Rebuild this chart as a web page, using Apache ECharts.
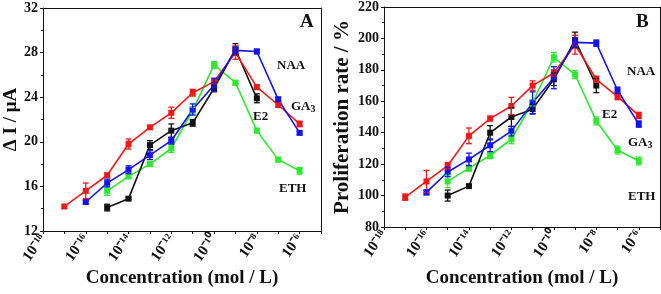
<!DOCTYPE html>
<html><head><meta charset="utf-8">
<script src="https://cdn.jsdelivr.net/npm/echarts@6/dist/echarts.min.js"></script>
<style>html,body{margin:0;padding:0;background:#fff}#c{width:661px;height:294px}</style>
</head><body><div id="c"></div>
<script>
const concExp = [-17,-16,-15,-14,-13,-12,-11,-10,-9,-8,-7,-6];
const xTickExp = [-18,-16,-14,-12,-10,-8,-6];
// Panel A: ΔI / μA
const gaA    = [14.2,15.6,17.0,19.8,21.3,22.6,24.4,25.4,28.0,24.9,23.3,21.6];
const gaAerr = [0.15,0.7,0.2,0.45,0.15,0.5,0.3,0.2,0.6,0.2,0.2,0.25];
const naaA    = [null,14.6,16.3,17.5,18.8,20.1,22.9,25.1,28.2,28.1,23.8,20.8];
const naaAerr = [null,0.15,0.35,0.35,0.4,0.3,0.5,0.6,0.3,0.2,0.2,0.15];
const e2A    = [null,null,14.1,14.9,19.7,21.0,21.7,24.8,28.3,23.9,null,null];
const e2Aerr = [null,null,0.3,0.1,0.4,0.6,0.3,0.3,0.5,0.4,null,null];
const ethA    = [null,null,15.6,16.9,18.0,19.4,22.8,26.9,25.3,21.0,18.4,17.4];
const ethAerr = [null,null,0.4,0.2,0.2,0.35,0.3,0.3,0.2,0.2,0.2,0.3];
// Panel B: Proliferation rate / %
const gaB    = [99,109,119,138,149,157,170,178,196,174,163,151];
const gaBerr = [2,7,2,5,1.5,5.5,3,2,6,2,2,2];
const naaB    = [null,102,115,123,132,141,159,175,197.5,197,167,145.5];
const naaBerr = [null,1.5,3,4,4,3,7,7,3,2,2,2];
const e2B    = [null,null,100,106,140,150,155,174,199,170,null,null];
const e2Berr = [null,null,3.5,1,4.5,6,3,4,5,4.5,null,null];
const ethB    = [null,null,109,117.5,125.5,136,159,188,177,147.5,129,122];
const ethBerr = [null,null,4,2,2,3,2,3,2.5,2.5,2.5,2.5];

const colors = {GA3:'#f01818', NAA:'#1414f0', E2:'#111111', ETH:'#2ee82e'};
const FONT = 'Liberation Serif';
const SUP = {'-':'\u207B','0':'\u2070','1':'\u00B9','2':'\u00B2','3':'\u00B3','4':'\u2074','5':'\u2075','6':'\u2076','7':'\u2077','8':'\u2078','9':'\u2079'};
function sup(n){ return String(n).split('').map(c=>SUP[c]).join(''); }

function pts(vals){ const out=[]; vals.forEach((v,i)=>{ if(v!=null) out.push([concExp[i], v]); }); return out; }
function errPts(vals, errs){ const out=[]; vals.forEach((v,i)=>{ if(v!=null) out.push([concExp[i], v, errs[i]]); }); return out; }

function lineSeries(name, vals, idx){
  return {type:'line', name, xAxisIndex:idx, yAxisIndex:idx, data:pts(vals),
    symbol:'rect', symbolSize:6, color:colors[name],
    lineStyle:{width:1.6, color:colors[name]}, itemStyle:{color:colors[name]}, z:3};
}
function errSeries(name, vals, errs, idx){
  return {type:'custom', name:name+'err', xAxisIndex:idx, yAxisIndex:idx, data:errPts(vals, errs), z:4,
    renderItem(params, api){
      const x=api.value(0), y=api.value(1), e=api.value(2);
      const t=api.coord([x,y+e]), b=api.coord([x,y-e]);
      const w=3, st={stroke:colors[name], lineWidth:1.3};
      return {type:'group', children:[
        {type:'line', shape:{x1:t[0],y1:t[1],x2:b[0],y2:b[1]}, style:st},
        {type:'line', shape:{x1:t[0]-w,y1:t[1],x2:t[0]+w,y2:t[1]}, style:st},
        {type:'line', shape:{x1:b[0]-w,y1:b[1],x2:b[0]+w,y2:b[1]}, style:st}
      ]};
    }};
}

function xAxis(idx, gap, rot){
  return {type:'value', gridIndex:idx, min:-18, max:-5, interval:1,
    name:'Concentration (mol / L)', nameLocation:'middle', nameGap:gap, nameMoveOverlap:false,
    nameTextStyle:{fontFamily:FONT, fontWeight:'bold', fontSize:19, color:'#111'},
    axisLine:{onZero:false, lineStyle:{color:'#111', width:1}},
    axisTick:{inside:false, length:3, lineStyle:{color:'#111'}},
    splitLine:{show:false},
    axisLabel:{rotate:rot, margin:5, fontFamily:FONT, fontWeight:'bold', fontSize:15, color:'#111', hideOverlap:false,
      formatter:v=> xTickExp.indexOf(v)>=0 ? '10'+sup(v) : ''}
  };
}
function xTop(idx){
  return {type:'value', gridIndex:idx, min:-18, max:-5, position:'top',
    axisLine:{onZero:false, lineStyle:{color:'#111'}}, axisTick:{show:false}, axisLabel:{show:false}, splitLine:{show:false}};
}
function yAxis(idx, min, max, interval, name, gap, fs){
  return {type:'value', gridIndex:idx, min, max, interval,
    name, nameLocation:'middle', nameGap:gap,
    nameTextStyle:{fontFamily:FONT, fontWeight:'bold', fontSize:fs, color:'#111'},
    axisLine:{show:true, lineStyle:{color:'#111'}},
    axisTick:{show:true, length:3, lineStyle:{color:'#111'}},
    minorTick:{show:true, splitNumber:2, length:2, lineStyle:{color:'#111'}},
    splitLine:{show:false},
    axisLabel:{margin:5, fontFamily:FONT, fontWeight:'bold', fontSize:14, color:'#111'}
  };
}
function yRight(idx, min, max){
  return {type:'value', gridIndex:idx, min, max, position:'right',
    axisLine:{show:true, lineStyle:{color:'#111'}}, axisTick:{show:false}, axisLabel:{show:false}, splitLine:{show:false}};
}

const series = [];
[['ETH',ethA,ethAerr],['E2',e2A,e2Aerr],['GA3',gaA,gaAerr],['NAA',naaA,naaAerr]].forEach(([n,v,e])=>{
  series.push(lineSeries(n,v,0)); series.push(errSeries(n,v,e,0));
});
[['ETH',ethB,ethBerr],['E2',e2B,e2Berr],['GA3',gaB,gaBerr],['NAA',naaB,naaBerr]].forEach(([n,v,e])=>{
  series.push(lineSeries(n,v,1)); series.push(errSeries(n,v,e,1));
});
series.push({type:'line', xAxisIndex:2, yAxisIndex:2, data:[], silent:true});
series.push({type:'line', xAxisIndex:3, yAxisIndex:3, data:[], silent:true});

function txt(x,y,t,fs){
  return {type:'text', left:x, top:y, style:{text:t, fontFamily:FONT, fontWeight:'bold', fontSize:fs||13, fill:'#111'}};
}
function txtSub(x,y){
  return {type:'text', left:x, top:y, style:{text:'{a|GA}{s|3}', rich:{a:{fontFamily:FONT,fontWeight:'bold',fontSize:13,fill:'#111'}, s:{fontFamily:FONT,fontWeight:'bold',fontSize:10,fill:'#111',verticalAlign:'bottom', padding:[6,0,0,0]}}}};
}
const G = {outerBoundsMode:'none', containLabel:false};
const chart = echarts.init(document.getElementById('c'), null, {renderer:'canvas'});
chart.setOption({
  animation:false,
  backgroundColor:'#fff',
  grid:[Object.assign({left:43, right:340, top:8, bottom:63},G), Object.assign({left:384, right:1, top:7, bottom:67},G),
        Object.assign({left:43, right:340, top:8, bottom:63},G), Object.assign({left:384, right:1, top:7, bottom:67},G)],
  xAxis:[xAxis(0,38,55), xAxis(1,42,55), xTop(2), xTop(3)],
  yAxis:[yAxis(0,12,32,4,'\u0394 I / \u03bcA',22,19), yAxis(1,80,220,20,'Proliferation rate / %',31,21),
         yRight(2,12,32), yRight(3,80,220)],
  series,
  graphic:[
    txt(300,13,'A',19), txt(277,59,'NAA'), txtSub(291,100), txt(253,110,'E2'), txt(279,182,'ETH'),
    txt(636,13,'B',19), txt(627,65,'NAA'), txt(602,108,'E2'), txtSub(628,136), txt(628,190,'ETH')
  ]
});
</script></body></html>
